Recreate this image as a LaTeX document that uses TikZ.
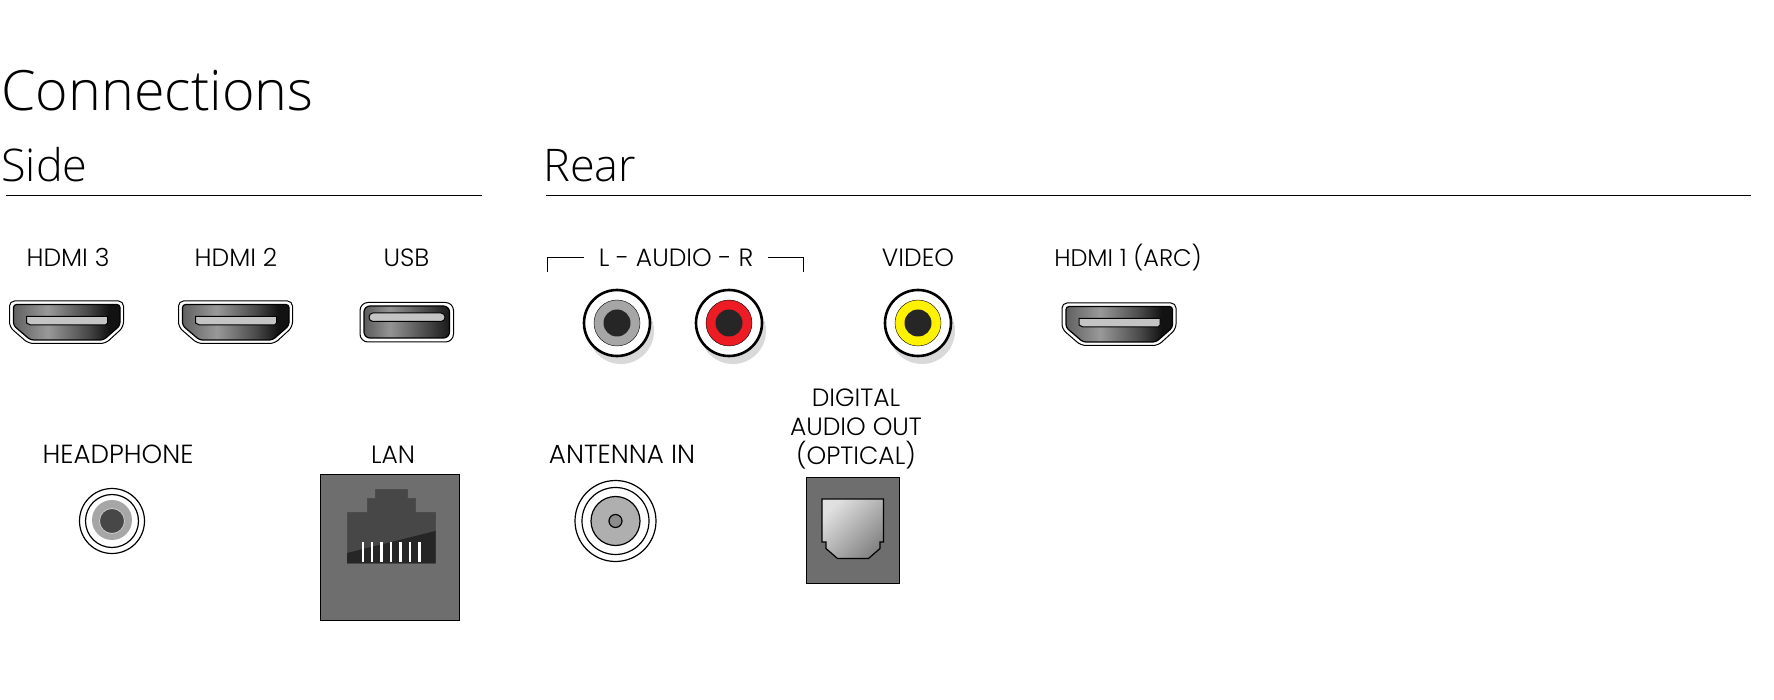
\documentclass[tikz,border=0pt]{standalone}
\usepackage{fontspec}
\setmainfont{Poppins}[UprightFont=* Light]
\newfontfamily\headfont{Open Sans}[UprightFont=* Light]
\usetikzlibrary{positioning}

\definecolor{panelgray}{HTML}{6E6E6E}
\definecolor{slotgray}{HTML}{C4C4C4}
\definecolor{shadowgray}{HTML}{D9D9D9}
\definecolor{ringgray}{HTML}{A6A6A6}
\definecolor{pluggray}{HTML}{262626}
\definecolor{rcared}{HTML}{ED1C24}
\definecolor{rcayellow}{HTML}{FFF200}

\pgfdeclarehorizontalshading{hdmigrad}{100bp}{rgb(0bp)=(.38,.38,.38); rgb(25bp)=(.38,.38,.38); rgb(41bp)=(.6,.6,.6); rgb(60bp)=(.28,.28,.28); rgb(70bp)=(.07,.07,.07); rgb(100bp)=(.07,.07,.07)}
\pgfdeclarehorizontalshading{usbgrad}{100bp}{rgb(0bp)=(.36,.36,.36); rgb(25bp)=(.36,.36,.36); rgb(40bp)=(.58,.58,.58); rgb(62bp)=(.28,.28,.28); rgb(75bp)=(.1,.1,.1); rgb(100bp)=(.1,.1,.1)}

\tikzset{
    title/.style={font=\headfont\fontsize{27.8}{30}\selectfont, anchor=base west, inner sep=0pt},
    section/.style={font=\headfont\fontsize{22.5}{25}\selectfont, anchor=base west, inner sep=0pt},
    label/.style={font=\fontsize{12.5}{14.5}\selectfont, anchor=base, inner sep=0pt},
    widelabel/.style={label, font=\fontsize{13.1}{14.5}\selectfont},
    rule/.style={black, line width=0.6pt},
    thinline/.style={black, line width=0.5pt},
    socket/.style={black, line width=0.6pt},
    panel/.style={draw=black, line width=0.5pt, fill=panelgray},
}

\begin{document}
\begin{tikzpicture}[x=0.5pt, y=-0.5pt]
    \useasboundingbox (0,-1) rectangle (1774,699);

    %draw headings
    \node[title] (connections) at (1,109.5) {Connections};
    \node[section] (side) at (1,181) {Side};
    \node[section] (rear) at (543,181) {Rear};
    \coordinate (sidel) at (6,194.5);
    \coordinate (sider) at (482,194.5);
    \coordinate (rearl) at (546,194.5);
    \coordinate (rearr) at (1751,194.5);
    \draw[rule] (sidel) -- (sider);
    \draw[rule] (rearl) -- (rearr);

    %draw labels top row
    \node[label] (hdmithree) at (68,265.5) {HDMI 3};
    \node[label] (hdmitwo) at (236,265.5) {HDMI 2};
    \node[label] (usb) at (406.5,265.5) {USB};
    \node[label, inner xsep=7pt] (audio) at (676,265.5) {L - AUDIO - R};
    \node[label] (video) at (918,265.5) {VIDEO};
    \node[label, font=\fontsize{12}{14.5}\selectfont] (hdmione) at (1128,265.5) {HDMI 1 (ARC)};

    %draw bracket
    \coordinate (brackl) at (547,271);
    \coordinate (brackr) at (803,271);
    \draw[thinline] (brackl) |- (audio.west);
    \draw[thinline] (brackr) |- (audio.east);

    %draw labels bottom row
    \node[widelabel] (headphone) at (118,463) {HEADPHONE};
    \node[label] (lan) at (393,463) {LAN};
    \node[widelabel] (antenna) at (622,463) {ANTENNA IN};
    \node[label, anchor=center, align=center] (optical) at (856,428) {DIGITAL\\AUDIO OUT\\(OPTICAL)};

    %draw hdmi sockets
    \foreach \x/\y in {9.5/300,178.5/300,1062/302} {
        \begin{scope}[shift={(\x,\y)}]
            \draw[thinline, fill=white, rounded corners=2.5pt] (0,0) -- (114,0) -- (114,26) -- (96,42.5) -- (19,42.5) -- (0,26) -- cycle;
            \shade[socket, shading=hdmigrad, draw=black, rounded corners=1.5pt] (4,3.5) -- (110.5,3.5) -- (110.5,24.5) -- (94,39) -- (21,39) -- (4,24.5) -- cycle;
            \draw[thinline, fill=slotgray] (17,15.5) -- (98,15.5) -- (98,22) -- (96,24) -- (21,24) -- (17,22) -- cycle;
        \end{scope}
    }

    %draw usb socket
    \draw[thinline, fill=white, rounded corners=4pt] (360,301.5) rectangle (453.5,341);
    \shade[socket, shading=usbgrad, draw=black, rounded corners=3pt] (364,305) rectangle (449.5,337);
    \draw[thinline, fill=slotgray, rounded corners=2pt] (369,312) rectangle (445,320.5);

    %draw rca sockets
    \foreach \x/\c in {617/ringgray,729/rcared,918/rcayellow} {
        \fill[shadowgray] (\x+4,322+8) circle (33);
        \draw[black, line width=1.3pt, fill=white] (\x,322) circle (33);
        \draw[black, line width=0.2pt, fill=\c] (\x,322) circle (23);
        \fill[pluggray] (\x,322) circle (13.5);
    }

    %draw headphone socket
    \draw[socket] (112,520) circle (32.5);
    \draw[socket] (112,520) circle (26.5);
    \fill[ringgray] (112,519) circle (20);
    \draw[line width=0.4pt, draw=white!80!black, fill=black!72] (112,520) circle (12.5);

    %draw lan socket
    \draw[panel] (320.5,474) rectangle (459.5,619);
    \draw[line width=0.5pt, black!70, fill=black!72] (347,562) -- (347,511.5) -- (367,511.5) -- (367,498) -- (375,498) -- (375,489) -- (407.5,489) -- (407.5,498) -- (415,498) -- (415,511.5) -- (435.5,511.5) -- (435.5,562) -- cycle;
    \fill[pluggray] (347,552) -- (435.5,530) -- (435.5,562) -- (347,562) -- cycle;
    %draw pins
    \foreach \i in {0,...,6}
        \fill[white] (361.5+\i*9.45,540.5) rectangle (364+\i*9.45,561);

    %draw antenna socket
    \draw[socket] (615.5,520) circle (40.5);
    \draw[socket] (615.5,520) circle (33.5);
    \draw[socket, fill=ringgray!90!white] (615.5,520) circle (24.5);
    \draw[socket, fill=black!45] (615.5,520) circle (6.5);

    %draw optical socket
    \draw[panel] (806.5,477) rectangle (899.5,582.5);
    \shade[socket, draw=black, top color=black!12, bottom color=black!48, shading angle=45] (822,498) -- (883.5,498) -- (883.5,541) -- (880,541) -- (880,547.5) -- (868.5,557.5) -- (837.5,557.5) -- (826,547.5) -- (826,541) -- (822,541) -- cycle;
\end{tikzpicture}
\end{document}
